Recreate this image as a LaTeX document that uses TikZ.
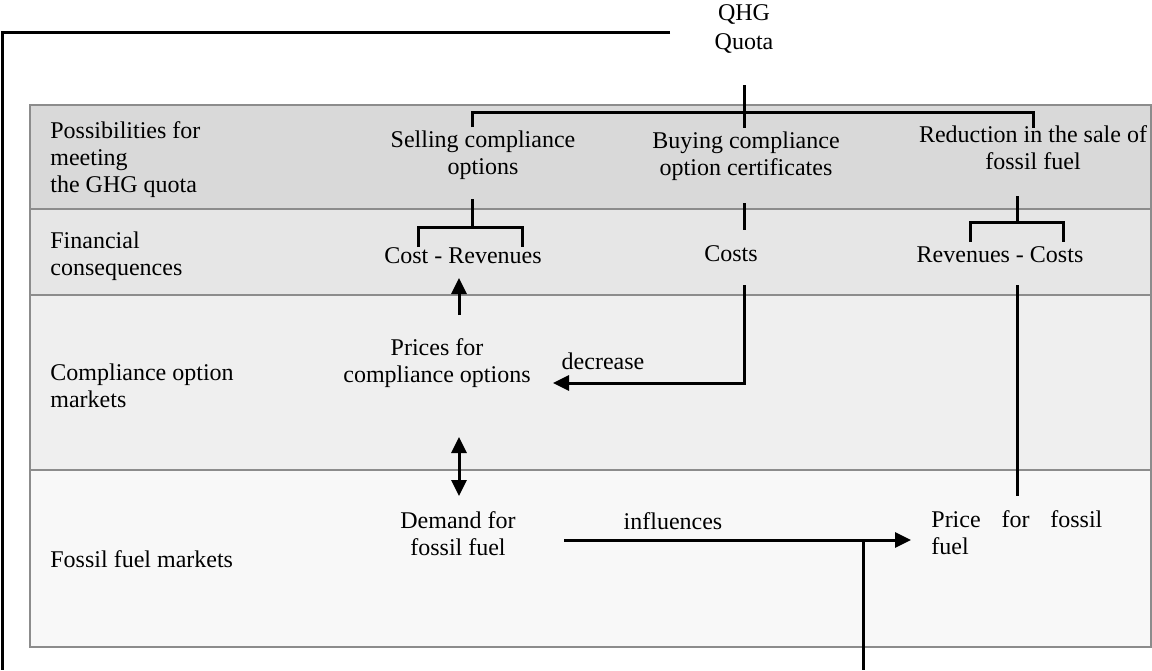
\documentclass[tikz,border=0pt]{standalone}
\usepackage{fontspec}
\setmainfont{Liberation Serif}
\usetikzlibrary{%
    arrows.meta,
    calc,
    positioning
}

\definecolor{bandA}{HTML}{D9D9D9}
\definecolor{bandB}{HTML}{E6E6E6}
\definecolor{bandC}{HTML}{EFEFEF}
\definecolor{bandD}{HTML}{F8F8F8}
\definecolor{bandline}{HTML}{8C8C8C}

\begin{document}
\begin{tikzpicture}[x=0.5pt, y=-0.5pt,
        txt/.style={font=\fontsize{12}{13.5}\selectfont, inner sep=0pt},
        rowlbl/.style={txt, align=left, anchor=north west},
        item/.style={txt, align=center, anchor=north},
        link/.style={line width=1.5pt},
        arr/.style={link, -{Triangle[length=8pt,width=7.5pt]}},
        twoarr/.style={link, {Triangle[length=8pt,width=7.5pt]}-{Triangle[length=8pt,width=7.5pt]}},
        band/.style={draw=bandline, line width=1.2pt}
    ]
    \useasboundingbox (0,0) rectangle (1152,670);

    \foreach \Top/\Bot/\Col in {105/209/bandA, 209/295/bandB, 295/470/bandC, 470/647/bandD}
        \path[band, fill=\Col] (30,\Top) rectangle (1151,\Bot);

    % row labels
    \node[rowlbl] (possl) at (50,121.5) {Possibilities for\\meeting\\the GHG quota};
    \node[rowlbl] (finl)  at (50,231.5) {Financial\\consequences};
    \node[rowlbl] (compl) at (50,363.5) {Compliance option\\markets};
    \node[txt, anchor=base west] (fossl) at (50,567) {Fossil fuel markets};

    \node[item, font=\fontsize{12}{14.5}\selectfont] (quota) at (744,4) {QHG\\Quota};

    \node[item] (sell)   at (483,130.5) {Selling compliance\\options};
    \node[item] (buy)    at (746,131.5) {Buying compliance\\option certificates};
    \node[item] (reduce) at (1033,125.5) {Reduction in the sale of\\fossil fuel};

    \node[txt, anchor=base] (costrev) at (463,263) {Cost - Revenues};
    \node[txt, anchor=base] (costs)   at (731,261) {Costs};
    \node[txt, anchor=base] (revcost) at (1000,262) {Revenues - Costs};

    \node[item] (prices) at (437,338.5) {Prices for\\compliance options};
    \node[item] (demand) at (458,511.5) {Demand for\\fossil fuel};
    \node[rowlbl] (fuelprice) at (931,510.5) {\makebox[85.5pt][s]{Price for fossil}\\fuel};

    \node[txt, anchor=base] (decr) at (603,369) {decrease};
    \node[txt, anchor=base] (infl) at (673,529) {influences};

    % connector ends
    \coordinate (qleft)   at (670,32);
    \coordinate (loopend) at (2,670);
    \coordinate (qfoot)   at (744,85);
    \coordinate (bar)     at (744,112);
    \coordinate (qjoin)   at (744,128);
    \coordinate (sellin)  at (472,127);
    \coordinate (redin)   at (1033,128);
    \coordinate (sellout) at (472,199);
    \coordinate (crjoin)  at (472,227);
    \coordinate (crleft)  at (418,247);
    \coordinate (crright) at (522,247);
    \coordinate (buyout)  at (744,203);
    \coordinate (costsin) at (744,230);
    \coordinate (costout) at (744,285);
    \coordinate (decin)   at (553,383);
    \coordinate (prup)    at (459,315);
    \coordinate (crbot)   at (459,278);
    \coordinate (mkttop)  at (459,437);
    \coordinate (mktbot)  at (459,496);
    \coordinate (demout)  at (564,540);
    \coordinate (fpin)    at (911,540);
    \coordinate (drop)    at (863,540);
    \coordinate (dropend) at (863,670);
    \coordinate (redout)  at (1017,196);
    \coordinate (rcjoin)  at (1017,222);
    \coordinate (rcleft)  at (970,242);
    \coordinate (rcright) at (1063,242);
    \coordinate (rcout)   at (1017,285);
    \coordinate (fptop)   at (1017,496);

    \draw[link] (qleft) -| (loopend);
    \draw[link] (qfoot) -- (qjoin);
    \draw[link] (sellin) |- (bar) -| (redin);

    \draw[link] (sellout) -- (crjoin);
    \draw[link] (crleft) |- (crjoin) -| (crright);
    \draw[link] (buyout) -- (costsin);
    \draw[link] (redout) -- (rcjoin);
    \draw[link] (rcleft) |- (rcjoin) -| (rcright);

    \draw[arr] (costout) |- (decin);
    \draw[arr] (prup) -- (crbot);
    \draw[twoarr] (mkttop) -- (mktbot);
    \draw[arr] (demout) -- (fpin);
    \draw[link] (drop) -- (dropend);
    \draw[link] (rcout) -- (fptop);
\end{tikzpicture}
\end{document}
